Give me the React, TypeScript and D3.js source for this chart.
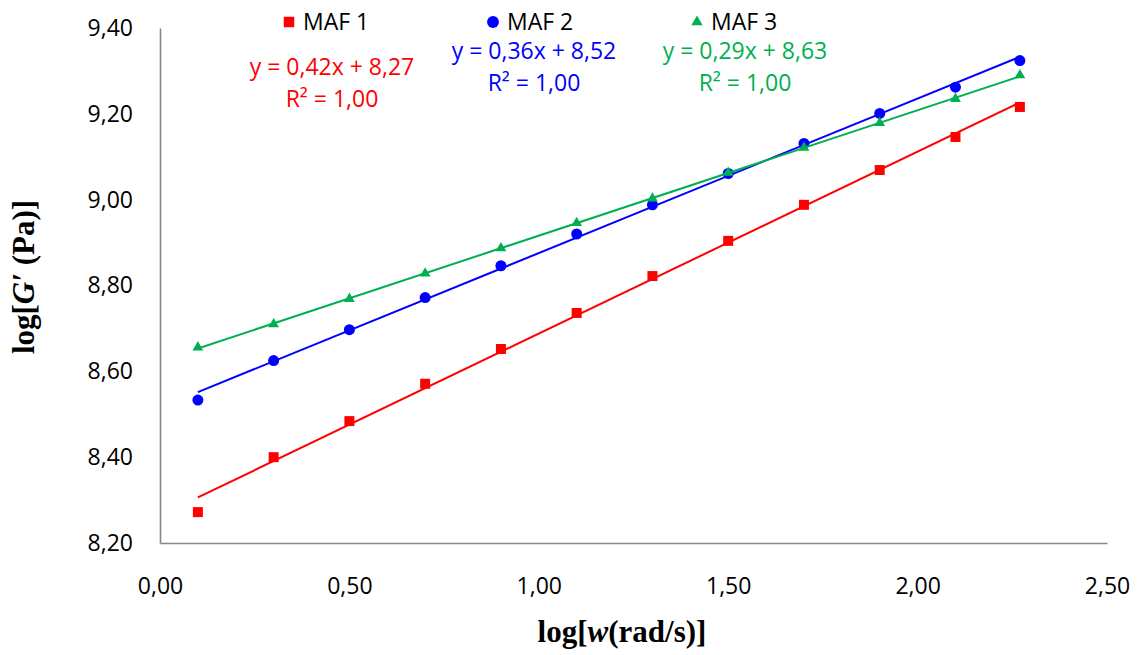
import * as d3 from 'd3';
import React, {useEffect} from 'react';

// log(w) values (x) shared by all three samples
const logW = [0.1, 0.3, 0.5, 0.7, 0.9, 1.1, 1.3, 1.5, 1.7, 1.9, 2.1, 2.27];

// log(G') values
const maf1 = [8.272, 8.400, 8.484, 8.571, 8.652, 8.736, 8.822, 8.904, 8.988, 9.069, 9.146, 9.216];
const maf2 = [8.533, 8.625, 8.697, 8.772, 8.846, 8.920, 8.988, 9.061, 9.131, 9.201, 9.262, 9.324];
const maf3 = [8.656, 8.710, 8.769, 8.828, 8.887, 8.946, 9.003, 9.063, 9.121, 9.179, 9.235, 9.290];

const seriesNames = ['MAF 1', 'MAF 2', 'MAF 3'];
const equations = ['y = 0,42x + 8,27', 'y = 0,36x + 8,52', 'y = 0,29x + 8,63'];
const rSquared = ['R² = 1,00', 'R² = 1,00', 'R² = 1,00'];

const xTicks = [0, 0.5, 1, 1.5, 2, 2.5];
const yTicks = [8.2, 8.4, 8.6, 8.8, 9.0, 9.2, 9.4];

export default function App() {
  const chartRef = React.useRef<SVGSVGElement>(null);

  useEffect(() => {
    drawChart();
  }, []);

  function drawChart() {
    const svg = d3.select(chartRef.current);
    svg.selectAll('*').remove();

    const font = '"Open Sans", "Noto Sans", sans-serif';
    const serif = '"Liberation Serif", "Times New Roman", serif';
    const fmt = (d: number) => d3.format('.2f')(d).replace('.', ',');

    let x = d3.scaleLinear().domain([0, 2.5]).range([160, 1107]);
    let y = d3.scaleLinear().domain([8.2, 9.4]).range([543, 28]);

    // axes, no tick marks, grey domain lines
    let xAxis = svg.append('g')
      .attr('transform', 'translate(0,543)')
      .call(d3.axisBottom(x).tickValues(xTicks).tickSize(0).tickPadding(35).tickFormat((d) => fmt(+d)));
    let yAxis = svg.append('g')
      .attr('transform', 'translate(160,0)')
      .call(d3.axisLeft(y).tickValues(yTicks).tickSize(0).tickPadding(27).tickFormat((d) => fmt(+d)));

    [xAxis, yAxis].forEach((a) => {
      a.select('.domain').attr('stroke', '#878787').attr('stroke-width', 1.6);
      a.selectAll('text')
        .attr('font-family', font)
        .attr('font-size', 23)
        .attr('fill', '#000');
    });

    const series = [
      {name: seriesNames[0], values: maf1, color: '#FF0000', symbol: d3.symbolSquare, size: 100},
      {name: seriesNames[1], values: maf2, color: '#0000FF', symbol: d3.symbolCircle, size: 95},
      {name: seriesNames[2], values: maf3, color: '#00B050', symbol: d3.symbolTriangle, size: 50},
    ];

    series.forEach((s, i) => {
      // least squares trend line over the data range
      const mx = d3.mean(logW)!;
      const my = d3.mean(s.values)!;
      const slope = d3.sum(logW, (v, k) => (v - mx) * (s.values[k] - my)) / d3.sum(logW, (v) => (v - mx) ** 2);
      const icpt = my - slope * mx;
      const ends = [logW[0], logW[logW.length - 1]];
      svg.append('path')
        .datum(ends)
        .attr('d', d3.line<number>().x((d) => x(d)).y((d) => y(icpt + slope * d)))
        .attr('stroke', s.color)
        .attr('stroke-width', 2)
        .attr('fill', 'none');

      svg.append('g')
        .selectAll('path')
        .data(s.values)
        .enter()
        .append('path')
        .attr('transform', (d, k) => `translate(${x(logW[k])},${y(d)})`)
        .attr('d', d3.symbol().type(s.symbol).size(s.size)())
        .attr('fill', s.color);
    });

    // legend
    const legendX = [289, 493, 697];
    series.forEach((s, i) => {
      svg.append('path')
        .attr('transform', `translate(${legendX[i]},22)`)
        .attr('d', d3.symbol().type(s.symbol).size(i === 2 ? 55 : 110)())
        .attr('fill', s.color);
      svg.append('text')
        .attr('x', legendX[i] + 14)
        .attr('y', 30)
        .attr('font-family', font)
        .attr('font-size', 23)
        .attr('fill', '#000')
        .text(s.name);
    });

    // trend line equations
    const eqPos = [{cx: 332, y1: 75, y2: 107}, {cx: 534, y1: 59, y2: 91}, {cx: 745, y1: 59, y2: 91}];
    series.forEach((s, i) => {
      svg.append('text')
        .attr('x', eqPos[i].cx)
        .attr('y', eqPos[i].y1)
        .attr('text-anchor', 'middle')
        .attr('font-family', font)
        .attr('font-size', 23)
        .attr('fill', s.color)
        .text(equations[i]);
      svg.append('text')
        .attr('x', eqPos[i].cx)
        .attr('y', eqPos[i].y2)
        .attr('text-anchor', 'middle')
        .attr('font-family', font)
        .attr('font-size', 23)
        .attr('fill', s.color)
        .text(rSquared[i]);
    });

    // axis titles
    let xt = svg.append('text')
      .attr('x', 622)
      .attr('y', 642)
      .attr('text-anchor', 'middle')
      .attr('font-family', serif)
      .attr('font-size', 31)
      .attr('font-weight', 'bold');
    xt.append('tspan').text('log[');
    xt.append('tspan').attr('font-style', 'italic').text('w');
    xt.append('tspan').text('(rad/s)]');

    let yt = svg.append('text')
      .attr('transform', 'translate(34,277) rotate(-90)')
      .attr('text-anchor', 'middle')
      .attr('font-family', serif)
      .attr('font-size', 31)
      .attr('font-weight', 'bold');
    yt.append('tspan').text('log[');
    yt.append('tspan').attr('font-style', 'italic').text('G′');
    yt.append('tspan').text(' (Pa)]');
  }

  return (
    <svg ref={chartRef} width={1140} height={655}
      style={{position: 'absolute', left: 0, top: 0, background: '#fff'}}></svg>
  );
}
